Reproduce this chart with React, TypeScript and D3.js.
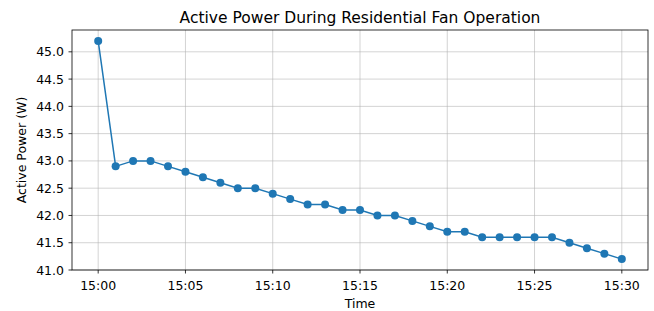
import React from "react";
import * as d3 from "d3";

// minute readings, 15:00 .. 15:30
const times = [
  "15:00", "15:01", "15:02", "15:03", "15:04", "15:05", "15:06", "15:07",
  "15:08", "15:09", "15:10", "15:11", "15:12", "15:13", "15:14", "15:15",
  "15:16", "15:17", "15:18", "15:19", "15:20", "15:21", "15:22", "15:23",
  "15:24", "15:25", "15:26", "15:27", "15:28", "15:29", "15:30"
];
const power = [
  45.2, 42.9, 43.0, 43.0, 42.9, 42.8, 42.7, 42.6, 42.5, 42.5, 42.4, 42.3,
  42.2, 42.2, 42.1, 42.1, 42.0, 42.0, 41.9, 41.8, 41.7, 41.7, 41.6, 41.6,
  41.6, 41.6, 41.6, 41.5, 41.4, 41.3, 41.2
];
const yTicks = [41.0, 41.5, 42.0, 42.5, 43.0, 43.5, 44.0, 44.5, 45.0];
const xTickLabels = ["15:00", "15:05", "15:10", "15:15", "15:20", "15:25", "15:30"];

const W = 654;
const H = 311;
const m = { top: 30, right: 6, bottom: 41, left: 72 };
const font = "DejaVu Sans, sans-serif";
const blue = "#1f77b4";
const tickSize = 12.5;

const toMin = (t: string) => {
  const [h, mm] = t.split(":").map(Number);
  return h * 60 + mm;
};

export default function App() {
  const x = d3
    .scaleLinear()
    .domain([toMin("15:00") - 1.5, toMin("15:30") + 1.5])
    .range([m.left, W - m.right]);
  const y = d3.scaleLinear().domain([41.0, 45.4]).range([H - m.bottom, m.top]);

  const pts = times.map((t, i) => [x(toMin(t)), y(power[i])] as [number, number]);
  const path = d3.line()(pts) || "";

  const x0 = m.left;
  const x1 = W - m.right;
  const y0 = m.top;
  const y1 = H - m.bottom;

  return (
    <svg width={W} height={H} style={{ position: "absolute", left: 0, top: 0 }}>
      <rect width={W} height={H} fill="#fff" />
      {/* grid */}
      {yTicks.map((v) => (
        <line key={"gy" + v} x1={x0} x2={x1} y1={y(v)} y2={y(v)} stroke="#b0b0b0" strokeOpacity={0.7} strokeWidth={0.8} />
      ))}
      {xTickLabels.map((t) => (
        <line key={"gx" + t} x1={x(toMin(t))} x2={x(toMin(t))} y1={y0} y2={y1} stroke="#b0b0b0" strokeOpacity={0.7} strokeWidth={0.8} />
      ))}
      {/* series */}
      <path d={path} fill="none" stroke={blue} strokeWidth={1.5} />
      {pts.map((p, i) => (
        <circle key={i} cx={p[0]} cy={p[1]} r={4} fill={blue} />
      ))}
      {/* frame */}
      <rect x={x0} y={y0} width={x1 - x0} height={y1 - y0} fill="none" stroke="#000" strokeWidth={0.8} />
      {/* y ticks */}
      {yTicks.map((v) => (
        <g key={"ty" + v}>
          <line x1={x0 - 3.5} x2={x0} y1={y(v)} y2={y(v)} stroke="#000" strokeWidth={0.8} />
          <text x={x0 - 8} y={y(v)} dy="0.36em" textAnchor="end" fontFamily={font} fontSize={tickSize} fill="#000">
            {v.toFixed(1)}
          </text>
        </g>
      ))}
      {/* x ticks */}
      {xTickLabels.map((t) => (
        <g key={"tx" + t}>
          <line x1={x(toMin(t))} x2={x(toMin(t))} y1={y1} y2={y1 + 3.5} stroke="#000" strokeWidth={0.8} />
          <text x={x(toMin(t))} y={290} textAnchor="middle" fontFamily={font} fontSize={tickSize} fill="#000">
            {t}
          </text>
        </g>
      ))}
      <text x={(x0 + x1) / 2} y={308} textAnchor="middle" fontFamily={font} fontSize={tickSize} fill="#000">
        Time
      </text>
      <text
        transform={`translate(21,${(y0 + y1) / 2}) rotate(-90)`}
        dy="0.36em"
        textAnchor="middle"
        fontFamily={font}
        fontSize={tickSize}
        fill="#000"
      >
        Active Power (W)
      </text>
      <text x={(x0 + x1) / 2} y={17.5} dy="0.36em" textAnchor="middle" fontFamily={font} fontSize={15.5} fill="#000">
        Active Power During Residential Fan Operation
      </text>
    </svg>
  );
}
